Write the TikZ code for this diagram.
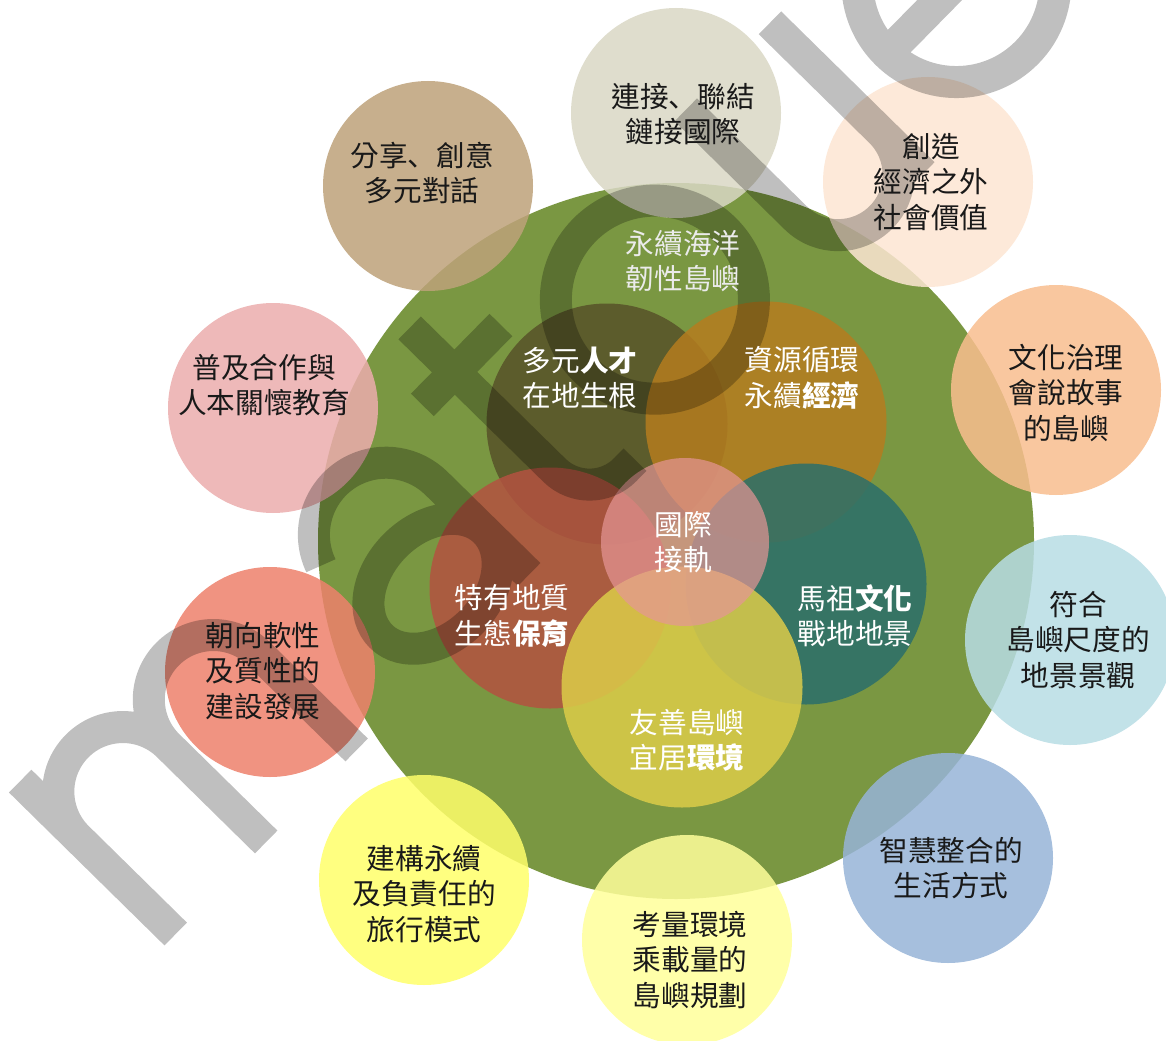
\documentclass[tikz,border=0pt]{standalone}
\usepackage{fontspec}
\newfontfamily\cjk{Noto Sans CJK TC}
\newfontfamily\cjksc{Noto Sans CJK SC}
\newcommand{\dun}{{\cjksc 、}}
\definecolor{bigg}{RGB}{122,151,66}
\definecolor{oA}{RGB}{218,216,197}
\definecolor{oB}{RGB}{190,162,122}
\definecolor{oC}{RGB}{253,230,211}
\definecolor{oD}{RGB}{249,190,143}
\definecolor{oE}{RGB}{236,173,173}
\definecolor{oF}{RGB}{238,129,108}
\definecolor{oG}{RGB}{184,221,229}
\definecolor{oH}{RGB}{151,180,216}
\definecolor{oI}{RGB}{255,255,106}
\definecolor{oJ}{RGB}{255,255,155}
\definecolor{iA}{RGB}{87,82,41}
\definecolor{iB}{RGB}{181,124,31}
\definecolor{iC}{RGB}{179,82,64}
\definecolor{iD}{RGB}{43,111,106}
\definecolor{iE}{RGB}{220,204,73}
\definecolor{iF}{RGB}{230,150,150}
\tikzset{
  bub/.style={circle, inner sep=0pt, draw=none, fill opacity=0.85},
  outerbub/.style={bub, minimum size=157.5pt},
  innerbub/.style={bub, minimum size=180.75pt},
  lbl/.style={align=center, inner sep=0pt, font=\cjk\fontsize{21.5}{26.5}\selectfont},
  darklbl/.style={lbl, text=black!90},
  lightlbl/.style={lbl, text=white},
  wmark/.style={draw=black, draw opacity=0.25, line width=24pt, line cap=butt, line join=round},
}
\begin{document}
\begin{tikzpicture}[x=0.75pt,y=-0.75pt]
\useasboundingbox (0,0) rectangle (1166,1041);
\fill[white] (0,0) rectangle (1166,1041);
% big circle
\node[circle, inner sep=0pt, minimum size=537pt, fill=bigg] (big) at (676,541) {};
% outer circles
\node[outerbub, fill=oA] (o1) at (676,113) {};
\node[outerbub, fill=oB] (o2) at (428,186) {};
\node[outerbub, fill=oC] (o3) at (928,182) {};
\node[outerbub, fill=oD] (o4) at (1056,390) {};
\node[outerbub, fill=oE] (o5) at (273,408) {};
\node[outerbub, fill=oF] (o6) at (270,672) {};
\node[outerbub, fill=oG] (o7) at (1070,640) {};
\node[outerbub, fill=oH] (o8) at (948,858) {};
\node[outerbub, fill=oI] (o9) at (424,880) {};
\node[outerbub, fill=oJ] (o10) at (687,940) {};
% inner circles
\node[innerbub, fill=iA] (iA) at (607,424) {};
\node[innerbub, fill=iB] (iB) at (766,422) {};
\node[innerbub, fill=iC] (iC) at (550,588) {};
\node[innerbub, fill=iD] (iD) at (806,584) {};
\node[innerbub, fill=iE] (iE) at (682,687) {};
\node[bub, minimum size=126pt, fill=iF, fill opacity=0.7] (iF) at (685,542) {};
% watermark strokes (letter frame rotated ~45 degrees)
\begin{scope}[shift={(175.7,934)}, x={(0.526pt,0.535pt)}, y={(-0.535pt,0.526pt)}]
\draw[wmark]
  (0,0) -- (0,218)
  (0,137.5) arc[start angle=180, end angle=0, radius=64.5] -- (129,0)
  (129,137.5) arc[start angle=180, end angle=0, radius=64.5] -- (258,0)
  (364.3,154.6) arc[start angle=160, end angle=0, radius=72] -- (504,0)
  (430,62) ellipse[x radius=74, y radius=54]
  (596,258) -- (596,55) arc[start angle=180, end angle=270, radius=50] -- (660,5)
  (550,195) -- (662,195)
  (788,103) circle[radius=99]
  (945,214) -- (945,60) arc[start angle=180, end angle=360, radius=60.5]
  (1066,215) -- (1066,0)
  (1126,110) -- (1324,110) arc[start angle=0, end angle=320, radius=99];
\end{scope}
% labels
\node[darklbl] (t1) at (683,114) {連接\dun 聯結\\鏈接國際};
\node[darklbl] (t2) at (422,173) {分享\dun 創意\\多元對話};
\node[darklbl] (t3) at (931,182) {創造\\經濟之外\\社會價值};
\node[darklbl] (t4) at (1066,393) {文化治理\\會說故事\\的島嶼};
\node[darklbl] (t5) at (264,385) {普及合作與\\人本關懷教育};
\node[darklbl] (t6) at (263,671) {朝向軟性\\及質性的\\建設發展};
\node[darklbl] (t7) at (1078,640) {符合\\島嶼尺度的\\地景景觀};
\node[darklbl] (t8) at (951,868) {智慧整合的\\生活方式};
\node[darklbl] (t9) at (424,894) {建構永續\\及負責任的\\旅行模式};
\node[darklbl] (t10) at (690,960) {考量環境\\乘載量的\\島嶼規劃};
\node[lbl, text=black!8] (tg) at (683,261) {永續海洋\\韌性島嶼};
\node[lightlbl] (tA) at (580,378) {多元\textbf{人才}\\在地生根};
\node[lightlbl] (tB) at (802,378) {資源循環\\永續\textbf{經濟}};
\node[lightlbl] (tC) at (512,616) {特有地質\\生態\textbf{保育}};
\node[lightlbl] (tD) at (855,616) {馬祖\textbf{文化}\\戰地地景};
\node[lightlbl] (tE) at (687,740) {友善島嶼\\宜居\textbf{環境}};
\node[lightlbl] (tF) at (683,542) {國際\\接軌};
\end{tikzpicture}
\end{document}
